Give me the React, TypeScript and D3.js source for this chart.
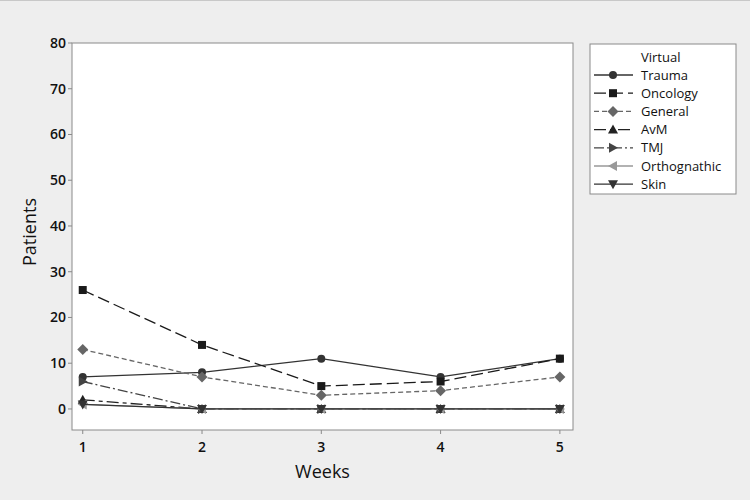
import React from "react";
import * as d3 from "d3";

const weeks = [1, 2, 3, 4, 5];
const seriesNames = ["Trauma", "Oncology", "General", "AvM", "TMJ", "Orthognathic", "Skin"];
const trauma = [7, 8, 11, 7, 11];
const oncology = [26, 14, 5, 6, 11];
const general = [13, 7, 3, 4, 7];
const avm = [2, 0, 0, 0, 0];
const tmj = [6, 0, 0, 0, 0];
const orthognathic = [1, 0, 0, 0, 0];
const skin = [1, 0, 0, 0, 0];
const yTicks = [0, 10, 20, 30, 40, 50, 60, 70, 80];

const seriesValues = [trauma, oncology, general, avm, tmj, orthognathic, skin];
const styles = [
  { color: "#333333", dash: "", marker: "circle" },
  { color: "#1a1a1a", dash: "12,5", marker: "square" },
  { color: "#666666", dash: "5,3", marker: "diamond" },
  { color: "#222222", dash: "12,4,4,4", marker: "up" },
  { color: "#444444", dash: "10,3,2,3", marker: "right" },
  { color: "#999999", dash: "", marker: "left" },
  { color: "#333333", dash: "", marker: "down" },
];

function Marker({ type, x, y, color }: { type: string; x: number; y: number; color: string }) {
  const s = 5;
  switch (type) {
    case "circle":
      return <circle cx={x} cy={y} r={4} fill={color} />;
    case "square":
      return <rect x={x - 4} y={y - 4} width={8} height={8} fill={color} />;
    case "diamond":
      return <path d={`M${x},${y - 5.5}L${x + 5.5},${y}L${x},${y + 5.5}L${x - 5.5},${y}Z`} fill={color} />;
    case "up":
      return <path d={`M${x},${y - s}L${x + s},${y + s * 0.8}L${x - s},${y + s * 0.8}Z`} fill={color} />;
    case "down":
      return <path d={`M${x},${y + s}L${x + s},${y - s * 0.8}L${x - s},${y - s * 0.8}Z`} fill={color} />;
    case "right":
      return <path d={`M${x + s},${y}L${x - s * 0.8},${y - s}L${x - s * 0.8},${y + s}Z`} fill={color} />;
    case "left":
      return <path d={`M${x - s},${y}L${x + s * 0.8},${y - s}L${x + s * 0.8},${y + s}Z`} fill={color} />;
  }
  return null;
}

export default function App() {
  const W = 750, H = 500;
  const left = 72, right = 573, top = 43, bottom = 430;
  const x = d3.scaleLinear().domain([0.91, 5.11]).range([left, right]);
  const y = d3.scaleLinear().domain([-4.6, 80]).range([bottom, top]);
  const line = d3.line<number>().x((_, i) => x(weeks[i])).y((d) => y(d));
  const font = "'Open Sans', 'DejaVu Sans', sans-serif";

  const legX = 590, legY = 44, legW = 146, legH = 150;
  return (
    <svg width={W} height={H} style={{ position: "absolute", left: 0, top: 0 }} fontFamily={font}>
      <rect x={0} y={0} width={W} height={H} fill="#eeeeee" />
      <line x1={0} x2={W} y1={0.5} y2={0.5} stroke="#c8c8c8" />
      <rect x={left} y={top} width={right - left} height={bottom - top} fill="#ffffff" stroke="#8a8a8a" />
      {yTicks.map((t) => (
        <g key={t}>
          <line x1={left - 4} x2={left} y1={y(t)} y2={y(t)} stroke="#8a8a8a" />
          <text x={left - 6} y={y(t)} dy="0.35em" textAnchor="end" fontSize={14} fontWeight={600} fill="#111">{t}</text>
        </g>
      ))}
      {weeks.map((t) => (
        <g key={t}>
          <line x1={x(t)} x2={x(t)} y1={bottom} y2={bottom + 4} stroke="#8a8a8a" />
          <text x={x(t)} y={bottom + 17} dy="0.35em" textAnchor="middle" fontSize={14} fontWeight={600} fill="#111">{t}</text>
        </g>
      ))}
      <text x={(left + right) / 2} y={472} dy="0.35em" textAnchor="middle" fontSize={18} fontWeight={500} fill="#111">Weeks</text>
      <text transform={`translate(30,232) rotate(-90)`} textAnchor="middle" dy="0.35em" fontSize={18} fontWeight={500} fill="#111">Patients</text>
      {seriesValues.map((vals, si) => {
        const st = styles[si];
        return (
          <g key={si}>
            <path d={line(vals) || ""} fill="none" stroke={st.color} strokeWidth={1.3} strokeDasharray={st.dash} />
            {vals.map((v, i) => (
              <Marker key={i} type={st.marker} x={x(weeks[i])} y={y(v)} color={st.color} />
            ))}
          </g>
        );
      })}
      <rect x={legX} y={legY} width={legW} height={legH} fill="#ffffff" stroke="#8a8a8a" />
      <text x={641} y={57} dy="0.35em" fontSize={13} fontWeight={500} fill="#111">Virtual</text>
      {seriesNames.map((n, i) => {
        const st = styles[i];
        const ly = 75 + i * 18.2;
        return (
          <g key={n}>
            <line x1={594} x2={633} y1={ly} y2={ly} stroke={st.color} strokeWidth={1.3} strokeDasharray={st.dash} />
            <Marker type={st.marker} x={613} y={ly} color={st.color} />
            <text x={641} y={ly} dy="0.35em" fontSize={13} fontWeight={500} fill="#111">{n}</text>
          </g>
        );
      })}
    </svg>
  );
}
